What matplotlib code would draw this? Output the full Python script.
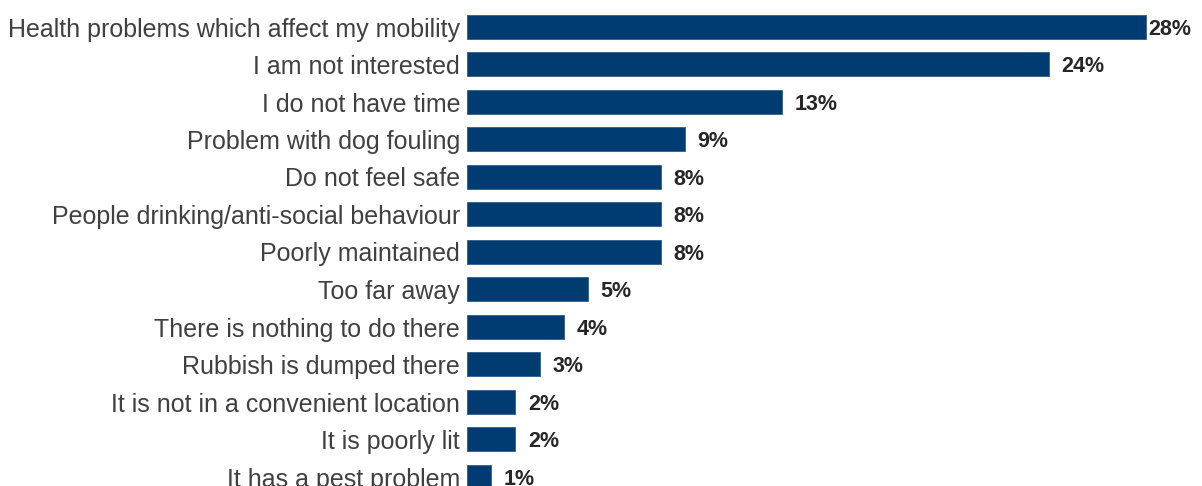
import matplotlib.pyplot as plt

# Reasons for not using local green spaces (% of respondents)
reasons = [
    "Health problems which affect my mobility",
    "I am not interested",
    "I do not have time",
    "Problem with dog fouling",
    "Do not feel safe",
    "People drinking/anti-social behaviour",
    "Poorly maintained",
    "Too far away",
    "There is nothing to do there",
    "Rubbish is dumped there",
    "It is not in a convenient location",
    "It is poorly lit",
    "It has a pest problem",
]
pct = [28, 24, 13, 9, 8, 8, 8, 5, 4, 3, 2, 2, 1]

bar_color = "#003B71"
text_color = "#404040"

plt.rcParams["font.family"] = ["Liberation Sans", "DejaVu Sans"]

fig = plt.figure(figsize=(12.02, 4.86), dpi=100)
ax = fig.add_axes([0.3885, 0.0, 0.604, 1.0])

y = list(range(len(reasons)))
ax.barh(y, pct, height=0.64, color=bar_color, edgecolor="#2f5d8a", linewidth=0.6)

ax.set_xlim(0, 29.95)
ax.set_ylim(12.24, -0.72)
ax.set_yticks(y)
ax.set_yticklabels(reasons, fontsize=18, color=text_color)
ax.tick_params(axis="y", length=0, pad=5)
ax.set_xticks([])
for s in ax.spines.values():
    s.set_visible(False)

# value labels; the longest bar's label sits tight against its end
for i, v in enumerate(pct):
    dx = 1.5 if v == max(pct) else 9
    ax.annotate(f"{v}%", (v, i), xytext=(dx, -1.5), textcoords="offset points",
                va="center", ha="left", fontsize=15.5, fontweight="bold",
                color="#262626", annotation_clip=False)

fig.savefig("out.png", dpi=100)
